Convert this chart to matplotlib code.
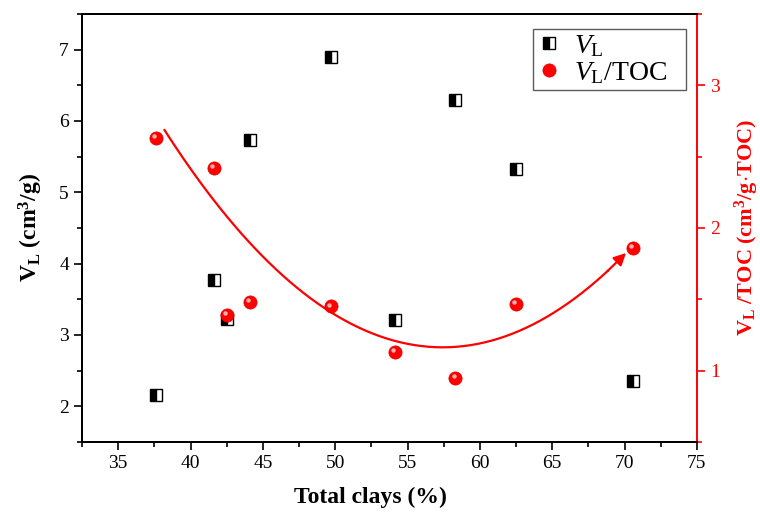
import numpy as np
import matplotlib
matplotlib.use('Agg')
import matplotlib.pyplot as plt
from matplotlib.ticker import MultipleLocator
from matplotlib.lines import Line2D
import matplotlib.transforms as mtransforms

plt.rcParams['font.family'] = 'Liberation Serif'
plt.rcParams['mathtext.fontset'] = 'custom'
plt.rcParams['mathtext.rm'] = 'Liberation Serif'
plt.rcParams['mathtext.it'] = 'Liberation Serif:italic'
plt.rcParams['mathtext.bf'] = 'Liberation Serif:bold'

# data
clays = [37.6, 41.6, 42.5, 44.1, 49.7, 54.1, 58.3, 62.5, 70.6]
vl = [2.16, 3.77, 3.23, 5.73, 6.89, 3.21, 6.30, 5.33, 2.36]
vl_toc = [2.63, 2.42, 1.39, 1.48, 1.45, 1.13, 0.95, 1.47, 1.86]
# points left out of the trend fit (outliers)
outliers = [42.5, 44.1]

fig = plt.figure(figsize=(7.6, 5.14), dpi=100)
ax = fig.add_axes([0.108, 0.140, 0.809, 0.833])
ax2 = ax.twinx()

ax.plot(clays, vl, ls='none', marker='s', ms=8, fillstyle='left',
        markerfacecolor='black', markerfacecoloralt='white',
        markeredgecolor='black', markeredgewidth=1.0, zorder=3)

# red spheres: base circle + little highlight
ax2.plot(clays, vl_toc, ls='none', marker='o', ms=9.5, color='#ff0000',
         markeredgecolor='#e00000', markeredgewidth=0.5, zorder=3)
off = mtransforms.ScaledTranslation(-1.3/72, 1.3/72, fig.dpi_scale_trans)
ax2.plot(clays, vl_toc, ls='none', marker='o', ms=3.2, color='#ffb0b0',
         markeredgewidth=0, transform=ax2.transData + off, zorder=4)

# quadratic trend of VL/TOC
keep = [i for i, x in enumerate(clays) if x not in outliers]
c = np.polyfit(np.array(clays)[keep], np.array(vl_toc)[keep], 2)
xs = np.linspace(38.2, 70.1, 200)
ys = np.polyval(c, xs)
ax2.plot(xs[:-8], ys[:-8], color='red', lw=1.6, zorder=2)
ax2.annotate('', xy=(xs[-1], ys[-1]), xytext=(xs[-9], ys[-9]),
             arrowprops=dict(arrowstyle='-|>', color='red', lw=1.6,
                             mutation_scale=18, shrinkA=0, shrinkB=0))

ax.set_xlim(32.5, 75)
ax.set_ylim(1.5, 7.5)
ax2.set_ylim(0.5, 3.5)

ax.xaxis.set_major_locator(MultipleLocator(5))
ax.xaxis.set_minor_locator(MultipleLocator(2.5))
ax.yaxis.set_major_locator(MultipleLocator(1))
ax.yaxis.set_minor_locator(MultipleLocator(0.5))
ax2.yaxis.set_major_locator(MultipleLocator(1))
ax2.yaxis.set_minor_locator(MultipleLocator(0.5))

ax.tick_params(which='major', direction='out', length=6, width=1.2, labelsize=14)
ax.tick_params(which='minor', direction='out', length=3.5, width=1.2)
ax.tick_params(axis='x', top=False, which='both')
ax2.tick_params(which='major', direction='out', length=6, width=1.2,
                labelsize=14, colors='red')
ax2.tick_params(which='minor', direction='out', length=3.5, width=1.2, colors='red')

for s in ['left', 'bottom', 'top']:
    ax.spines[s].set_linewidth(1.4)
    ax2.spines[s].set_linewidth(1.4)
ax2.spines['right'].set_color('red')
ax2.spines['right'].set_linewidth(1.4)
ax.spines['right'].set_visible(False)

ax.set_xlabel('Total clays (%)', fontsize=17, fontweight='bold')
ax.xaxis.set_label_coords((370 - 82) / 615, -0.105)
ax.set_ylabel(r'$\mathbf{V_L}$ $\mathbf{(cm^3/g)}$', fontsize=17)
ax.yaxis.set_label_coords(-0.060, 0.5)
ax2.set_ylabel(r'$\mathbf{V_L}$ $\mathbf{/TOC\ (cm^3/g{\cdot}TOC)}$', fontsize=16,
               color='red')
ax2.yaxis.set_label_coords(1.058, 0.5)

h1 = Line2D([], [], ls='none', marker='s', ms=8, fillstyle='left',
            markerfacecolor='black', markerfacecoloralt='white',
            markeredgecolor='black', markeredgewidth=1.0)
h2 = Line2D([], [], ls='none', marker='o', ms=9.5, color='#ff0000',
            markeredgecolor='#e00000', markeredgewidth=0.5)
leg = ax2.legend([h1, h2], [r'$V_{\rm L}$', r'$V_{\rm L}$/TOC' + '\u2002\u2002'],
                 loc='upper right', bbox_to_anchor=(0.983, 0.965),
                 fontsize=20, frameon=True, fancybox=False,
                 edgecolor='#333333', handlelength=0.9, handletextpad=0.43,
                 borderpad=0.15, labelspacing=0.05, borderaxespad=0)
leg.get_frame().set_linewidth(1.0)

fig.savefig('out.png', dpi=100)
